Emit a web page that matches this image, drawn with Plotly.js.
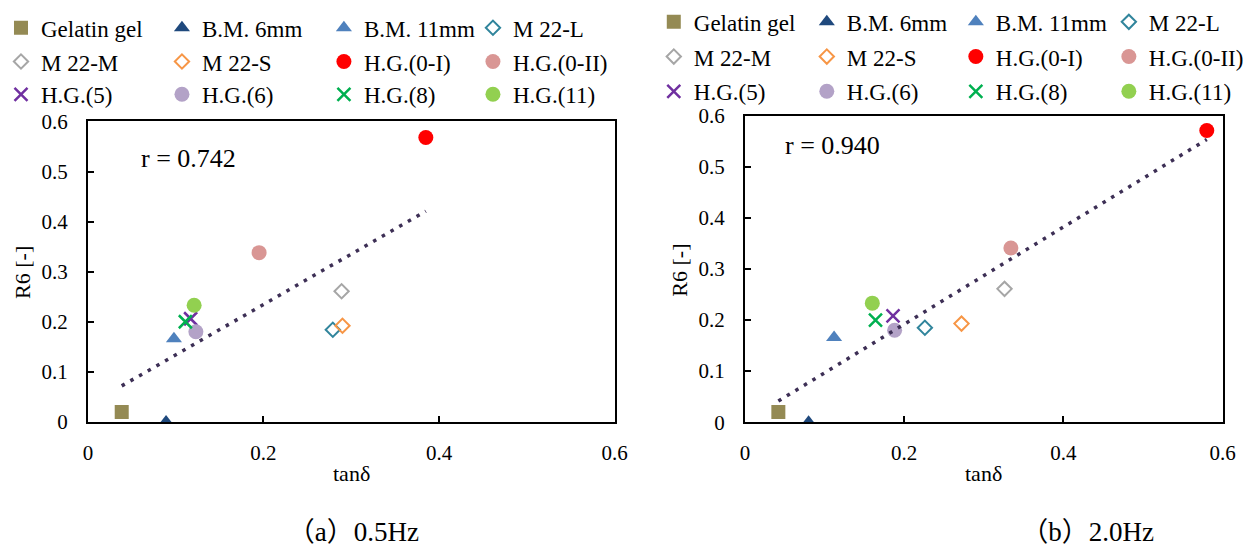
<!DOCTYPE html>
<html><head><meta charset="utf-8">
<script src="https://cdn.plot.ly/plotly-3.0.1.min.js"></script>
<style>html,body{margin:0;padding:0;background:#fff}#chart{width:1249px;height:546px}</style>
</head><body><div id="chart"></div>
<script>
// ---- data ----
const seriesNames = ['Gelatin gel','B.M. 6mm','B.M. 11mm','M 22-L',
                     'M 22-M','M 22-S','H.G.(0-I)','H.G.(0-II)',
                     'H.G.(5)','H.G.(6)','H.G.(8)','H.G.(11)'];
const tanDelta05 = [0.0385, 0.089, 0.098, 0.279, 0.289, 0.290, 0.385, 0.195, 0.117, 0.123, 0.111, 0.121];
const r6_05      = [0.020,  0.000, 0.166, 0.184, 0.261, 0.192, 0.568, 0.338, 0.206, 0.180, 0.200, 0.233];
const tanDelta20 = [0.042,  0.080, 0.112, 0.226, 0.326, 0.272, 0.580, 0.334, 0.186, 0.188, 0.164, 0.160];
const r6_20      = [0.020,  0.000, 0.166, 0.185, 0.261, 0.193, 0.571, 0.341, 0.208, 0.180, 0.200, 0.233];
const rLabels = ['r = 0.742', 'r = 0.940'];
const captions = ['（a）0.5Hz', '（b）2.0Hz'];
const xTickVals = [0, 0.2, 0.4, 0.6];
const xTickText = ['0', '0.2', '0.4', '0.6'];
const yTickVals = [0, 0.1, 0.2, 0.3, 0.4, 0.5, 0.6];
const yTickText = ['0', '0.1', '0.2', '0.3', '0.4', '0.5', '0.6'];
const xTitle = 'tanδ';
const yTitle = 'R6 [-]';

// ---- styles ----
const colors  = ['#948A54','#1F497D','#4F81BD','#31859C','#A6A6A6','#F79646','#FF0000','#D99694','#7030A0','#B3A2C7','#00B050','#92D050'];
const symbols = ['square','triangle-up','triangle-up','diamond-open','diamond-open','diamond-open','circle','circle','x-thin-open','circle','x-thin-open','circle'];
const sizes   = [14, 14, 14, 11, 11, 11, 15, 15, 13, 15, 13, 15];
const trendColor = '#3D2F55';
const W = 1249, H = 546;
const SERIF = 'Liberation Serif, Times New Roman, serif';
const CAPFONT = 'Liberation Serif, Noto Sans CJK JP, serif';

const panels = [
  {x: tanDelta05, y: r6_05, xa: 'x',  ya: 'y'},
  {x: tanDelta20, y: r6_20, xa: 'x2', ya: 'y2'}
];
// legend marker targets (px) per panel: column x, row y
const legendColX = [[24, 186, 349, 499], [681, 835, 985, 1139]];
const legendRowY = [[24, 58, 91], [18, 53, 88]];

function regression(xs, ys) {
  const n = xs.length;
  const mx = xs.reduce((a,b)=>a+b,0)/n, my = ys.reduce((a,b)=>a+b,0)/n;
  let sxy = 0, sxx = 0;
  for (let i=0;i<n;i++){ sxy += (xs[i]-mx)*(ys[i]-my); sxx += (xs[i]-mx)*(xs[i]-mx); }
  const b = sxy/sxx, a = my - b*mx;
  const x0 = Math.min(...xs), x1 = Math.max(...xs);
  return {x: [x0, x1], y: [a + b*x0, a + b*x1]};
}

const traces = [];
const legends = {};
panels.forEach((p, pi) => {
  seriesNames.forEach((name, i) => {
    const row = Math.floor(i / 4), col = i % 4;
    const lid = pi*12 + i + 1;
    const key = lid === 1 ? 'legend' : 'legend' + lid;
    const open = symbols[i].indexOf('open') >= 0;
    traces.push({
      type: 'scatter', mode: 'markers', name: name,
      x: [p.x[i]], y: [p.y[i]], xaxis: p.xa, yaxis: p.ya,
      legend: key,
      marker: {symbol: symbols[i], size: sizes[i], color: colors[i],
               line: open ? {color: colors[i], width: symbols[i].indexOf('x') === 0 ? 2.5 : 2} : {width: 0}},
      hoverinfo: 'x+y+name'
    });
    legends[key] = {
      x: Math.max(0, legendColX[pi][col] - 23) / W, xanchor: 'left',
      y: 1 - legendRowY[pi][row] / H, yanchor: 'middle',
      font: {family: SERIF, size: 23, color: '#000'},
      bgcolor: 'rgba(0,0,0,0)', borderwidth: 0, itemclick: false, itemdoubleclick: false
    };
  });
});
panels.forEach((p) => {
  const t = regression(p.x, p.y);
  traces.push({type: 'scatter', mode: 'lines', x: t.x, y: t.y, xaxis: p.xa, yaxis: p.ya,
    showlegend: false, hoverinfo: 'skip',
    line: {color: trendColor, width: 3.5, dash: '3.5px,6.5px'}});
});

function axisCommon(extra) {
  return Object.assign({
    range: [0, 0.6], showline: true, mirror: true, linecolor: '#000', linewidth: 2,
    ticks: 'inside', ticklen: 6, tickwidth: 1.5, tickcolor: '#000',
    showgrid: false, zeroline: false, fixedrange: true,
    tickfont: {family: SERIF, size: 21, color: '#000'}
  }, extra);
}

function ann(text, px, py, size, opts) {
  return Object.assign({text: text, xref: 'paper', yref: 'paper', x: px / W, y: 1 - py / H,
    xanchor: 'center', yanchor: 'middle', showarrow: false,
    font: {family: SERIF, size: size, color: '#000'}}, opts || {});
}

const layout = Object.assign({
  width: W, height: H, margin: {l: 0, r: 0, t: 0, b: 0},
  paper_bgcolor: '#fff', plot_bgcolor: '#fff',
  xaxis:  axisCommon({domain: [88.5/W, 618.5/W], anchor: 'y',  tickvals: xTickVals, ticktext: xTickText, ticklabelstandoff: 11}),
  yaxis:  axisCommon({domain: [(H-421)/H, (H-118.3)/H], anchor: 'x', tickvals: yTickVals, ticktext: yTickText, ticklabelstandoff: 14}),
  xaxis2: axisCommon({domain: [749.7/W, 1230.6/W], anchor: 'y2', tickvals: xTickVals, ticktext: xTickText, ticklabelstandoff: 11}),
  yaxis2: axisCommon({domain: [(H-421.3)/H, (H-112.5)/H], anchor: 'x2', tickvals: yTickVals, ticktext: yTickText, ticklabelstandoff: 14}),
  annotations: [
    ann(rLabels[0], 140, 156, 26, {xanchor: 'left'}),
    ann(rLabels[1], 788, 143, 26, {xanchor: 'left'}),
    ann(xTitle, 353.5, 473, 22),
    ann(xTitle, 990, 473, 22),
    ann(yTitle, 22, 270, 22, {textangle: -90}),
    ann(yTitle, 683, 268, 22, {textangle: -90}),
    ann(captions[0], 424, 532, 27, {xanchor: 'right', width: 170, height: 44, align: 'right', valign: 'middle', font: {family: CAPFONT, size: 27, color: '#000'}}),
    ann(captions[1], 1163, 532, 27, {xanchor: 'right', width: 170, height: 44, align: 'right', valign: 'middle', font: {family: CAPFONT, size: 27, color: '#000'}})
  ],
  hovermode: 'closest'
}, legends);

Plotly.newPlot('chart', traces, layout, {displayModeBar: false, responsive: false});
</script>
</body></html>
